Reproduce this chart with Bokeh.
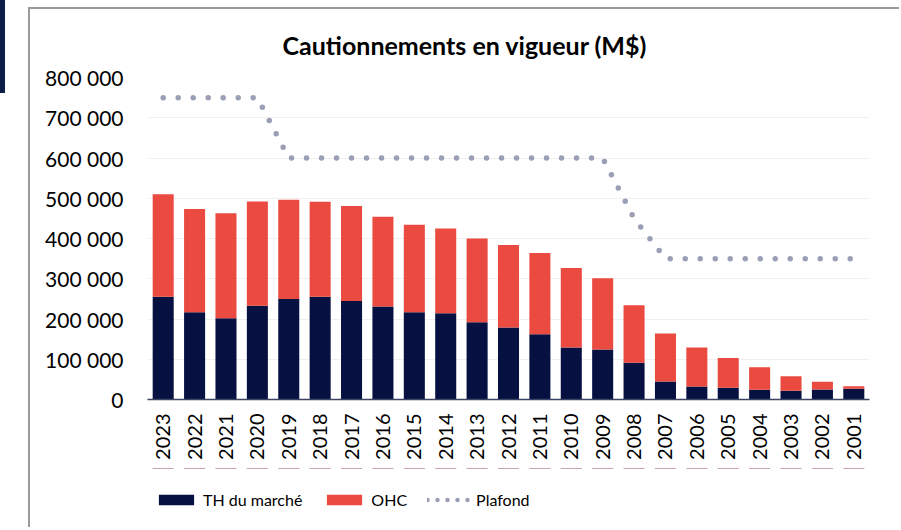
import numpy as np
from bokeh.plotting import figure
from bokeh.layouts import column
from bokeh.models import (ColumnDataSource, FactorRange, Range1d, FixedTicker,
                          Legend, LegendItem)
from bokeh.embed import file_html
from bokeh.resources import INLINE

# ---------------- data ----------------
years = ["2023", "2022", "2021", "2020", "2019", "2018", "2017", "2016", "2015",
         "2014", "2013", "2012", "2011", "2010", "2009", "2008", "2007", "2006",
         "2005", "2004", "2003", "2002", "2001"]
th_marche = [255000, 217000, 202000, 233000, 250000, 255000, 245000, 231000, 217000,
             214000, 192000, 179000, 162000, 129000, 124000, 91000, 45000, 32000,
             29000, 24000, 22000, 25000, 27000]
totals = [510000, 473000, 463000, 492000, 496000, 491000, 481000, 454000, 434000,
          425000, 400000, 384000, 364000, 327000, 301000, 234000, 164000, 129000,
          103000, 80000, 58000, 44000, 33000]
ohc = [t - m for t, m in zip(totals, th_marche)]
plafond = [750000, 750000, 750000, 750000, 600000, 600000, 600000, 600000, 600000,
           600000, 600000, 600000, 600000, 600000, 600000, 450000, 350000, 350000,
           350000, 350000, 350000, 350000, 350000]
y_ticks = [0, 100000, 200000, 300000, 400000, 500000, 600000, 700000, 800000]
y_tick_labels = ["0", "100 000", "200 000", "300 000", "400 000", "500 000",
                 "600 000", "700 000", "800 000"]
series_names = ["TH du marché", "OHC", "Plafond"]
title_text = "Cautionnements en vigueur (M$)"

NAVY = "#061041"
RED = "#EA4A3F"
GREY = "#9B9FB5"
FONT = "Lato"
BORDER = "2px solid #9a9a9a"

src = ColumnDataSource(dict(years=years, th=th_marche, ohc=ohc, plafond=plafond,
                            total=totals))

# ---------------- main chart ----------------
p = figure(x_range=FactorRange(factors=years, range_padding=0, factor_padding=0),
           y_range=Range1d(0, 800000),
           width=871, height=461, output_backend="svg", toolbar_location=None,
           min_border_left=117, min_border_right=32, min_border_top=68,
           min_border_bottom=71)
p.styles = {"margin-left": "28px", "margin-top": "7px",
            "border-left": BORDER, "border-top": BORDER}
p.stylesheets = [":host::before { content: ''; position: fixed; left: 0; top: 0; "
                 "width: 5px; height: 93px; background: #0b1e45; }"]
p.outline_line_color = None
p.background_fill_color = "white"
p.border_fill_color = "white"

p.title.text = title_text
p.title.align = "left"
p.title.offset = 135
p.title.standoff = 36
p.title.text_font = FONT
p.title.text_font_style = "bold"
p.title.text_font_size = "25px"
p.title.text_color = "#000000"

p.vbar_stack(["th", "ohc"], x="years", width=0.67, color=[NAVY, RED],
             line_color=None, source=src)
p.line(x="years", y="plafond", source=src, line_color=GREY, line_width=5.5,
       line_dash="0 15", line_cap="round")

p.yaxis.ticker = FixedTicker(ticks=y_ticks)
p.yaxis.major_label_overrides = {float(t): l for t, l in zip(y_ticks, y_tick_labels)}
p.yaxis.axis_line_color = None
p.yaxis.major_tick_line_color = None
p.yaxis.minor_tick_line_color = None
p.yaxis.major_tick_out = 0
p.yaxis.major_label_standoff = 24
p.yaxis.major_label_text_font = FONT
p.yaxis.major_label_text_font_size = "21px"
p.yaxis.major_label_text_color = "#000000"

p.xaxis.major_label_orientation = np.pi / 2
p.xaxis.axis_line_color = "#3d4566"
p.xaxis.axis_line_width = 1.5
p.xaxis.major_tick_line_color = None
p.xaxis.major_tick_out = 0
p.xaxis.major_label_standoff = 14
p.xaxis.major_label_text_font = FONT
p.xaxis.major_label_text_font_size = "20px"
p.xaxis.major_label_text_color = "#000000"

p.xgrid.grid_line_color = None
p.ygrid.ticker = FixedTicker(ticks=y_ticks)
p.ygrid.grid_line_color = "#f0f0f0"
p.ygrid.grid_line_width = 1

# ---------------- legend strip ----------------
# same series, drawn as zero-height bars / off-range line so only legend keys show
lf = figure(x_range=FactorRange(factors=years, range_padding=0, factor_padding=0),
            y_range=Range1d(-2, -1), width=871, height=59,
            output_backend="svg", toolbar_location=None, min_border=0,
            x_axis_location=None, y_axis_location=None)
lf.styles = {"margin-left": "28px", "border-left": BORDER}
lf.outline_line_color = None
lf.grid.grid_line_color = None
lf.background_fill_color = "white"
lf.border_fill_color = "white"
key_th = lf.vbar(x="years", top="th", bottom="th", width=0.67, fill_color=NAVY,
                 line_color=None, source=src)
key_ohc = lf.vbar(x="years", top="total", bottom="total", width=0.67, fill_color=RED,
                  line_color=None, source=src)
key_pl = lf.line(x="years", y="plafond", source=src, line_color=GREY, line_width=4.5,
                 line_dash="0 10", line_cap="round")

legend = Legend(items=[LegendItem(label=series_names[0], renderers=[key_th]),
                       LegendItem(label=series_names[1], renderers=[key_ohc]),
                       LegendItem(label=series_names[2], renderers=[key_pl])],
                orientation="horizontal", location=(7, 18),
                glyph_width=44, glyph_height=13, label_standoff=5, spacing=20,
                padding=0, margin=0, background_fill_alpha=0,
                border_line_color=None,
                label_text_font=FONT,
                label_text_font_size="16px", label_text_color="#000000")
lf.add_layout(legend, "center")

layout = column(p, lf, spacing=0)
open("out.html", "w").write(file_html(layout, INLINE))
